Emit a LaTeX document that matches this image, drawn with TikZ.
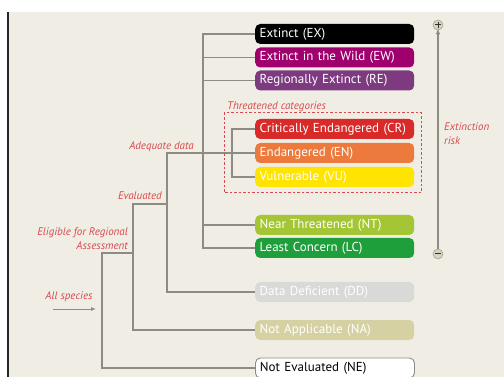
\documentclass[tikz,border=0pt]{standalone}
\usepackage{fontspec}
\setmainfont{PT Sans}
\usetikzlibrary{arrows.meta}
\definecolor{bg}{HTML}{F0EEE4}
\definecolor{lbl}{HTML}{D9474F}
\definecolor{ln}{HTML}{8C8C84}
\definecolor{cEX}{HTML}{000000}
\definecolor{cEW}{HTML}{A0006D}
\definecolor{cRE}{HTML}{7E3A80}
\definecolor{cCR}{HTML}{D92A2A}
\definecolor{cEN}{HTML}{EB7A3C}
\definecolor{cVU}{HTML}{FFE400}
\definecolor{cNT}{HTML}{A5C634}
\definecolor{cLC}{HTML}{1F9E3C}
\definecolor{cDD}{HTML}{D9D9D7}
\definecolor{cNA}{HTML}{D5D1A2}
\definecolor{circ}{HTML}{D6D4BE}
\begin{document}
\begin{tikzpicture}[x=1pt,y=-1pt,
  cat/.style={rounded corners=5pt, minimum width=159pt, minimum height=20pt,
    text width=150pt, inner xsep=4.5pt, inner ysep=0pt, align=left, anchor=west,
    font=\fontsize{13}{14}\selectfont, text=white},
  tree/.style={draw=ln, line width=1.1pt},
  redlbl/.style={text=lbl, font=\fontsize{11}{14}\selectfont\itshape, inner sep=0pt}]
\useasboundingbox (0,0) rectangle (504,377);
\fill[white] (0,0) rectangle (504,377);
\fill[bg] (8,12) rectangle (504,377);
\fill[black!85] (7,12) rectangle (8.6,377);
\begin{scope}
\clip (0,0) rectangle (504,377);
% categories
\node[cat, fill=cEX] (ex) at (255,34) {Extinct (EX)};
\node[cat, fill=cEW] (ew) at (255,57.5) {Extinct in the Wild (EW)};
\node[cat, fill=cRE] (re) at (255,80.5) {Regionally Extinct (RE)};
\node[cat, fill=cCR] (cr) at (255,129) {Critically Endangered (CR)};
\node[cat, fill=cEN] (en) at (255,153) {Endangered (EN)};
\node[cat, fill=cVU] (vu) at (255,177) {Vulnerable (VU)};
\node[cat, fill=cNT] (nt) at (255,225) {Near Threatened (NT)};
\node[cat, fill=cLC] (lc) at (255,248) {Least Concern (LC)};
\node[cat, fill=cDD] (dd) at (255,292) {Data Deficient (DD)};
\node[cat, fill=cNA] (na) at (255,330) {Not Applicable (NA)};
\node[cat, fill=white, draw=ln, line width=0.9pt, text=black] (ne) at (255,368) {Not Evaluated (NE)};
% tree
\coordinate (t1) at (203,34);
\coordinate (t2) at (203,248);
\draw[tree] (ex.west) -- (t1) -- (t2) -- (lc.west);
\draw[tree] (ew.west) -- (203,57.5);
\draw[tree] (re.west) -- (203,80.5);
\draw[tree] (nt.west) -- (203,225);
\draw[tree] (cr.west) -- (232,129) -- (232,177) -- (vu.west);
\coordinate (a1) at (167,153);
\coordinate (a2) at (167,292);
\draw[tree] (en.west) -- (a1) -- (a2) -- (dd.west);
\coordinate (e1) at (133,204);
\coordinate (e2) at (133,330);
\draw[tree] (a1 |- e1) -- (e1) -- (e2) -- (na.west);
\coordinate (g1) at (102,253);
\coordinate (g2) at (102,368);
\draw[tree] (e1 |- g1) -- (g1) -- (g2) -- (ne.west);
\coordinate (s0) at (53,309);
\coordinate (s1) at (96,309);
\draw[draw=ln, line width=1pt, -{Latex[length=5pt,width=4pt]}] (s0) -- (s1);
% threatened box
\coordinate (d1) at (224,113);
\coordinate (d2) at (421,193);
\draw[lbl, dashed, line width=1pt, dash pattern=on 2.5pt off 2pt] (d1) rectangle (d2);
\node[redlbl, anchor=base west] (thr) at (227,110) {Threatened categories};
% labels
\node[redlbl, anchor=east] (lad) at (194,147) {Adequate data};
\node[redlbl, anchor=east] (lev) at (162,196) {Evaluated};
\node[redlbl, anchor=east, align=right] (lel) at (128,239) {Eligible for Regional\\Assessment};
\node[redlbl] (lall) at (69,297) {All species};
% extinction risk
\node[circle, fill=circ, draw=ln!80, line width=0.6pt, minimum size=10pt, inner sep=0pt] (plus) at (438,25) {};
\draw[black!80, line width=1pt] (435.3,25) -- (440.7,25) (438,22.3) -- (438,27.7);
\node[circle, fill=circ, draw=ln!80, line width=0.6pt, minimum size=10pt, inner sep=0pt] (minus) at (438,254) {};
\draw[black!80, line width=1pt] (435.3,254) -- (440.7,254);
\draw[draw=ln, line width=1.1pt, -{Latex[length=6pt,width=4.5pt]}] (minus.north) -- ([yshift=2pt]plus.south);
\node[redlbl, anchor=north west, align=left] (risk) at (444,123) {Extinction\\risk};
\end{scope}
\end{tikzpicture}
\end{document}
